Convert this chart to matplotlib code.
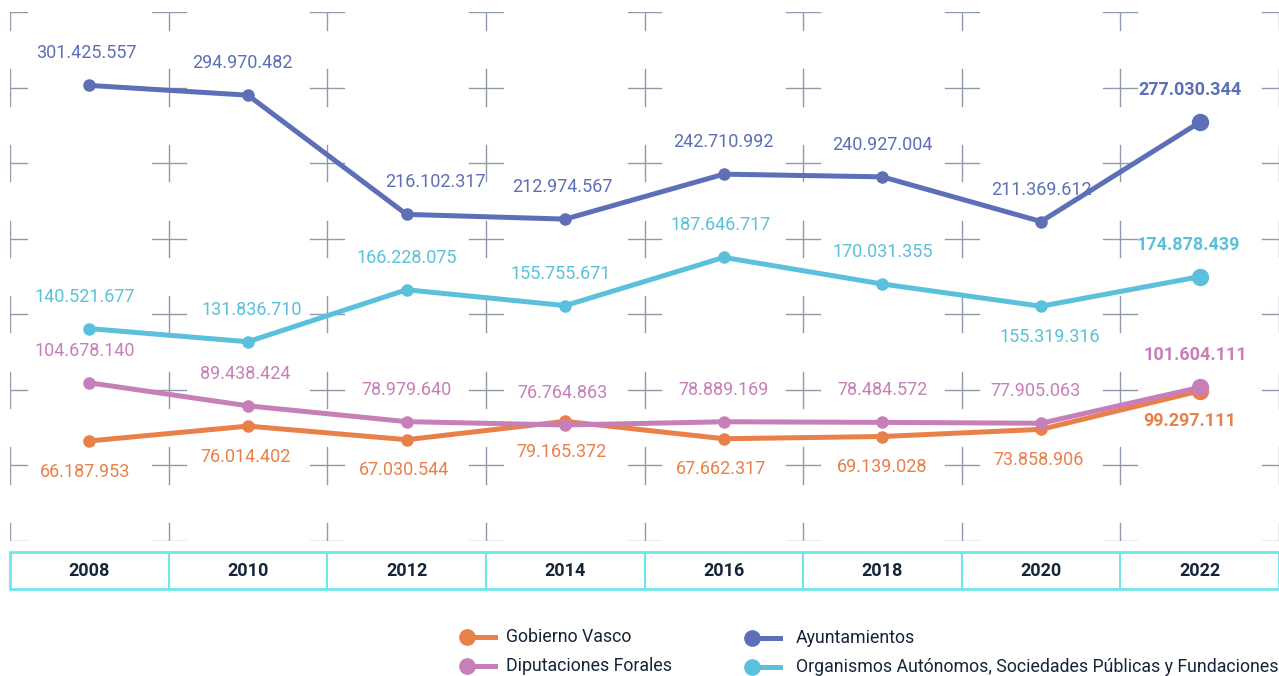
import matplotlib.pyplot as plt
from matplotlib.lines import Line2D
from matplotlib.patches import Rectangle
import numpy as np

plt.rcParams['font.family'] = ['Roboto', 'DejaVu Sans']

years = ['2008', '2010', '2012', '2014', '2016', '2018', '2020', '2022']

gobierno_vasco = [66187953, 76014402, 67030544, 79165372, 67662317, 69139028, 73858906, 99297111]
diputaciones = [104678140, 89438424, 78979640, 76764863, 78889169, 78484572, 77905063, 101604111]
ayuntamientos = [301425557, 294970482, 216102317, 212974567, 242710992, 240927004, 211369612, 277030344]
organismos = [140521677, 131836710, 166228075, 155755671, 187646717, 170031355, 155319316, 174878439]

names = ['Gobierno Vasco', 'Diputaciones Forales', 'Ayuntamientos',
         'Organismos Autónomos, Sociedades Públicas y Fundaciones']

# etiqueta encima (+1) o debajo (-1) del punto
pos_gv = [-1, -1, -1, -1, -1, -1, -1, -1]
pos_df = [1, 1, 1, 1, 1, 1, 1, 1]
pos_ay = [1, 1, 1, 1, 1, 1, 1, 1]
pos_or = [1, 1, 1, 1, 1, 1, -1, 1]

# pequeños desplazamientos horizontales (pt)
dx_gv = [-3, -2, -2, -3, -2, 0, -2, -7]
dx_df = [-3, -2, 0, -2, 0, 0, -4, -3]
dx_ay = [-2, -4, 21, -2, 0, 0, 0, -7]
dx_or = [-3, 3, 0, -3, -2, 0, 6, -8]

c_gv = '#E8804A'
c_df = '#C77FB8'
c_ay = '#5D6FB6'
c_or = '#5BC0DB'
c_grid = '#8F9BAA'
c_tab = '#6FE6EC'
c_txt = '#16243A'


def fmt(v):
    return f'{v:,}'.replace(',', '.')


fig = plt.figure(figsize=(12.79, 6.76), dpi=100)
ax = fig.add_axes([10/1279, 1-541/676, 1269/1279, 529/676])
ax.set_xlim(-0.5, 7.5)
ax.set_ylim(0, 350e6)
ax.axis('off')

# cruces de la rejilla
dx = 0.107
dy = 12e6
for gx in np.arange(-0.5, 8.0, 1.0):
    for gy in np.arange(0, 351e6, 50e6):
        ax.plot([gx-dx, gx+dx], [gy, gy], color=c_grid, lw=1, zorder=1)
        ax.plot([gx, gx], [gy-dy, gy+dy], color=c_grid, lw=1, zorder=1)

x = np.arange(len(years))
series = [(gobierno_vasco, c_gv, pos_gv, dx_gv, 3),
          (diputaciones, c_df, pos_df, dx_df, 4),
          (ayuntamientos, c_ay, pos_ay, dx_ay, 3),
          (organismos, c_or, pos_or, dx_or, 3)]

for vals, col, pos, sx, z in series:
    ax.plot(x, vals, color=col, lw=3.6, marker='o', ms=8, zorder=z, solid_capstyle='round')
    ax.plot(x[-1], vals[-1], marker='o', ms=11.5, color=col, zorder=z)
    for i, v in enumerate(vals):
        last = i == len(vals) - 1
        off = 23 if pos[i] > 0 else -22
        ax.annotate(fmt(v), (x[i], v), xytext=(sx[i], off), textcoords='offset points',
                    ha='center', va='center', color=col, fontsize=13,
                    fontweight='bold' if last else 'normal', zorder=6)

# tabla de años
tab = fig.add_axes([10/1279, 1-589/676, 1269/1279, 37/676])
tab.set_xlim(-0.5, 7.5)
tab.set_ylim(0, 1)
tab.axis('off')
tab.add_patch(Rectangle((-0.5, 0), 8, 1, fill=False, ec=c_tab, lw=2, clip_on=False))
for i in range(1, 8):
    tab.plot([i-0.5, i-0.5], [0, 1], color=c_tab, lw=1.5)
for i, y in enumerate(years):
    tab.text(i, 0.5, y, ha='center', va='center', fontsize=13, fontweight='bold', color=c_txt)

# leyenda
leg = [(467, 637, c_gv, names[0]), (467, 666, c_df, names[1]),
       (752, 638, c_ay, names[2]), (752, 667, c_or, names[3])]
for px, py, col, name in leg:
    fx, fy = px/1279, 1-py/676
    fig.add_artist(Line2D([fx, fx+28/1279], [fy, fy], color=col, lw=3.6))
    fig.add_artist(Line2D([fx], [fy], marker='o', ms=11, color=col))
    fig.text(fx+(44 if px > 700 else 39)/1279, fy, name, ha='left', va='center',
             fontsize=12.8, color=c_txt)

fig.savefig('out.png', dpi=100)
